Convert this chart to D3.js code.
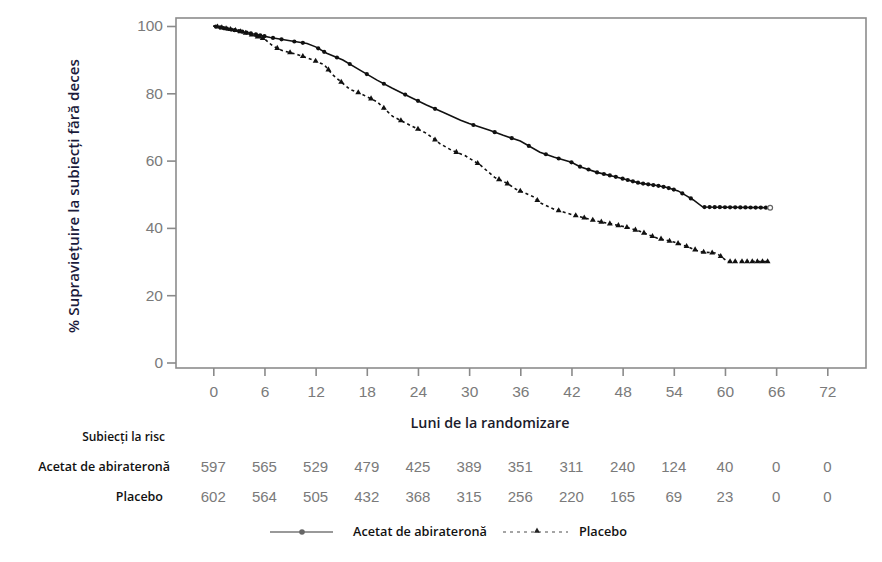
<!DOCTYPE html>
<html><head><meta charset="utf-8">
<script src="https://cdn.jsdelivr.net/npm/d3@7"></script>
<style>
html,body{margin:0;padding:0;background:#fff;}
svg{display:block;}
</style></head>
<body>
<svg id="c" width="882" height="562"></svg>
<script>
// ---- data ----
const xTicks = [0,6,12,18,24,30,36,42,48,54,60,66,72];
const yTicks = [0,20,40,60,80,100];

const abiMonths = [0,2,4,6.7,9,11,12,13.3,15.2,17.2,19.2,21,23,25,27,29,30,32.4,34,36,38.3,40,42,43,45,47,48.5,50,52,53.2,54.5,55.5,56.3,57.4,65.3];
const abiSurv   = [100,99,98,96.6,95.6,94.8,93.8,91.9,89.9,86.9,83.9,81.5,79,76.5,74.3,72,71,69,67.5,65.8,62.5,61,59.5,58.2,56.5,55.3,54.3,53.3,52.6,52,51,49.5,48.3,46.2,46];

const plaMonths = [0,3,6,7,8,10,11.7,13,14,16,17.2,19.2,21,23,25,26.6,28,29.5,31.3,33,34.4,35.5,37.5,38.3,40,42,43,45,47,48.3,50,52,54,55.5,57.1,59,60.3,65];
const plaSurv   = [100,98.5,96.2,94,92.8,91.4,89.9,88.5,85.5,81.2,80,77.5,73.2,70.6,68.1,65,63,61.5,58.7,55,53.3,51.5,49.3,47.5,45.5,44,43.3,42,41,40.3,39,37,35.8,34.5,32.9,32.5,30,30];

const abiCensor = [0.3,0.8,1.2,1.6,2.1,2.5,3,3.4,3.9,4.4,5,5.5,6,7,8,9.5,10.5,12.3,13,14.5,16,18,20,22.5,24,26,30.5,33,35,37,39,40.5,42,43,44,45,45.8,46.5,47.2,48,48.6,49.2,49.8,50.4,51,51.6,52.2,52.8,53.4,54,55,56,57.6,58.2,58.8,59.4,60,60.6,61.2,61.8,62.4,63,63.6,64.2,64.8];
const plaCensor = [0.5,1,1.5,2,2.6,3.2,3.8,4.5,5.2,5.8,7.5,9,10.5,12,13.5,15,17,18.5,20,22,24,26,28.5,31,33.5,34.5,36,38,40.5,42.5,43.5,44.5,45.5,46.5,47.5,48.5,49.5,50.5,51.5,52.5,53.5,54.5,55.5,56.5,57.5,58.5,59.5,60.6,61.2,62,62.6,63.2,63.8,64.4];

const riskLabel = "Subiecți la risc";
const groupNames = ["Acetat de abirateronă","Placebo"];
const riskAbi = [597,565,529,479,425,389,351,311,240,124,40,0,0];
const riskPla = [602,564,505,432,368,315,256,220,165,69,23,0,0];
const xTitle = "Luni de la randomizare";
const yTitle = "% Supraviețuire la subiecți fără deces";

// ---- drawing ----
const svg = d3.select("#c");
const box = {l:176, r:866, t:18, b:368};
const x = d3.scaleLinear().domain([0,72]).range([213.3,827.3]);
const y = d3.scaleLinear().domain([0,100]).range([362.5,26]);
const tickFont = "'Liberation Sans', Arial, sans-serif";
const labFont = "'Open Sans', 'Noto Sans', sans-serif";
const gray = "#8a8a8a";

// frame
svg.append("rect").attr("x",box.l).attr("y",box.t).attr("width",box.r-box.l).attr("height",box.b-box.t)
  .attr("fill","none").attr("stroke","#8c8c8c").attr("stroke-width",1.6);

// y axis
const ya = svg.append("g").attr("transform",`translate(${box.l},0)`)
  .call(d3.axisLeft(y).tickValues(yTicks).tickSize(9).tickPadding(4));
ya.select(".domain").remove();
ya.selectAll("line").attr("stroke",gray).attr("stroke-width",1.6);
ya.selectAll("text").attr("fill","#7a7a7a").style("font-family",tickFont).style("font-size","15.5px");

// x axis
const xa = svg.append("g").attr("transform",`translate(0,${box.b})`)
  .call(d3.axisBottom(x).tickValues(xTicks).tickSize(8).tickPadding(10));
xa.select(".domain").remove();
xa.selectAll("line").attr("stroke",gray).attr("stroke-width",1.6);
xa.selectAll("text").attr("fill","#7a7a7a").style("font-family",tickFont).style("font-size","15.5px");

// titles
svg.append("text").attr("x",490).attr("y",428).attr("text-anchor","middle")
  .style("font-family",labFont).style("font-weight",600).style("font-size","14.3px").attr("fill","#1b1b2b").text(xTitle);
svg.append("text").attr("transform","translate(79,196) rotate(-90)").attr("text-anchor","middle")
  .style("font-family",labFont).style("font-weight",600).style("font-size","15.2px").attr("fill","#1b1b3b").text(yTitle);

// curves
const abiPts = abiMonths.map((m,i)=>[m,abiSurv[i]]);
const plaPts = plaMonths.map((m,i)=>[m,plaSurv[i]]);
const line = d3.line().x(d=>x(d[0])).y(d=>y(d[1]));
svg.append("path").attr("d",line(abiPts)).attr("fill","none").attr("stroke","#111").attr("stroke-width",1.6);
svg.append("path").attr("d",line(plaPts)).attr("fill","none").attr("stroke","#111").attr("stroke-width",1.6).attr("stroke-dasharray","3,3");

const abiInterp = d3.scaleLinear().domain(abiMonths).range(abiSurv);
const plaInterp = d3.scaleLinear().domain(plaMonths).range(plaSurv);

svg.append("g").selectAll("circle").data(abiCensor).join("circle")
  .attr("cx",d=>x(d)).attr("cy",d=>y(abiInterp(d))).attr("r",2.1).attr("fill","#111");
svg.append("circle").attr("cx",x(abiMonths[abiMonths.length-1])).attr("cy",y(abiSurv[abiSurv.length-1]))
  .attr("r",2.4).attr("fill","#fff").attr("stroke","#666").attr("stroke-width",1.2);

const tri = d3.symbol().type(d3.symbolTriangle).size(15);
svg.append("g").selectAll("path").data(plaCensor).join("path")
  .attr("d",tri).attr("transform",d=>`translate(${x(d)},${y(plaInterp(d))})`).attr("fill","#111");
svg.append("path").attr("d",tri)
  .attr("transform",`translate(${x(plaMonths[plaMonths.length-1])},${y(plaSurv[plaSurv.length-1])})`).attr("fill","#111");

// risk table
svg.append("text").attr("x",165).attr("y",441).attr("text-anchor","end")
  .style("font-family",labFont).style("font-weight",600).style("font-size","12px").attr("fill","#111").text(riskLabel);
const rows = [{name:groupNames[0],vals:riskAbi,y:471,xe:170},{name:groupNames[1],vals:riskPla,y:501,xe:163}];
rows.forEach(r=>{
  svg.append("text").attr("x",r.xe).attr("y",r.y).attr("text-anchor","end")
    .style("font-family",labFont).style("font-weight",600).style("font-size","12.5px").attr("fill","#111").text(r.name);
  svg.append("g").selectAll("text").data(r.vals).join("text")
    .attr("x",(d,i)=>x(xTicks[i])).attr("y",r.y+1).attr("text-anchor","middle")
    .style("font-family",tickFont).style("font-size","15px").attr("fill","#7a7a7a").text(d=>d);
});

// legend
const lg = svg.append("g");
lg.append("line").attr("x1",270).attr("x2",333).attr("y1",532).attr("y2",532).attr("stroke","#777").attr("stroke-width",1.5);
lg.append("circle").attr("cx",302).attr("cy",532).attr("r",2.8).attr("fill","#666");
lg.append("text").attr("x",353).attr("y",536).style("font-family",labFont).style("font-weight",600).style("font-size","12.7px").attr("fill","#111").text(groupNames[0]);
lg.append("line").attr("x1",503).attr("x2",568).attr("y1",532).attr("y2",532).attr("stroke","#888").attr("stroke-width",1.5).attr("stroke-dasharray","3,4");
lg.append("path").attr("d",tri).attr("transform","translate(537,531)").attr("fill","#222");
lg.append("text").attr("x",579).attr("y",536).style("font-family",labFont).style("font-weight",600).style("font-size","12.7px").attr("fill","#111").text(groupNames[1]);
</script>
</body></html>
